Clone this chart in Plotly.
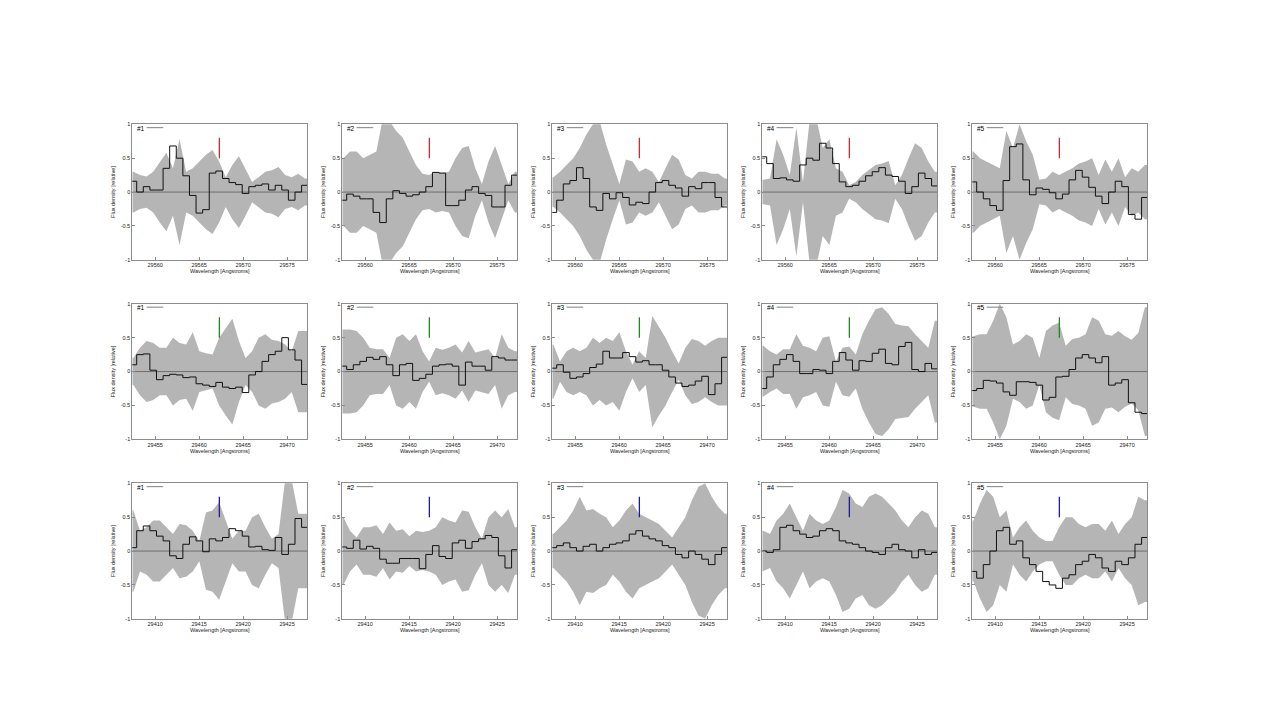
import plotly.graph_objects as go
from plotly.subplots import make_subplots

# ---------------- data ----------------
row_ranges = [(29557.4, 29577.3), (29452.4, 29472.3), (29407.4, 29427.3)]
row_first_center = [29557.525, 29452.525, 29407.525]
bin_width = 0.75
row_marker_x = [29567.3, 29462.3, 29417.3]
row_ticks = [[29560, 29565, 29570, 29575],
             [29455, 29460, 29465, 29470],
             [29410, 29415, 29420, 29425]]
marker_colors = ["#d42a2a", "#1f8a1f", "#1c1ca0"]
panel_labels = ["#1", "#2", "#3", "#4", "#5"]
y_tick_vals = [-1, -0.5, 0, 0.5, 1]
y_tick_text = ["-1", "-0.5", "0", "0.5", "1"]
marker_low, marker_high = 0.5, 0.8

flux_row1 = [
    [0.16, 0.0, 0.08, 0.03, 0.03, 0.35, 0.68, 0.5, 0.24, -0.05, -0.31, -0.26, 0.28, 0.31, 0.2, 0.14, 0.11, -0.02, 0.08, 0.1, 0.12, 0.03, 0.1, 0.03, -0.12, 0.0, 0.1],
    [-0.12, -0.03, -0.06, -0.1, -0.1, -0.3, -0.45, -0.1, 0.02, -0.02, -0.06, -0.04, 0.0, 0.08, 0.29, 0.28, -0.2, -0.2, -0.12, 0.03, 0.08, -0.02, -0.05, -0.22, -0.22, 0.1, 0.25],
    [-0.3, -0.12, 0.12, 0.17, 0.36, 0.2, -0.22, -0.27, -0.02, -0.1, -0.01, -0.08, -0.19, -0.15, -0.17, 0.0, 0.14, 0.17, 0.1, 0.06, -0.06, 0.08, 0.05, 0.14, 0.14, -0.08, -0.22],
    [0.52, 0.42, 0.2, 0.21, 0.18, 0.16, 0.4, 0.5, 0.47, 0.72, 0.65, 0.42, 0.15, 0.08, 0.1, 0.16, 0.24, 0.3, 0.36, 0.25, 0.23, 0.16, -0.02, 0.08, 0.28, 0.2, 0.09],
    [0.15, 0.0, -0.1, -0.2, -0.27, 0.17, 0.67, 0.71, 0.18, -0.04, 0.06, 0.04, -0.01, -0.1, -0.03, 0.18, 0.32, 0.22, 0.07, -0.06, -0.17, 0.0, 0.16, 0.08, -0.33, -0.4, -0.08],
]
err_row1 = [
    [0.3, 0.25, 0.23, 0.3, 0.45, 0.58, 0.35, 0.78, 0.3, 0.35, 0.45, 0.55, 0.62, 0.45, 0.22, 0.4, 0.53, 0.35, 0.15, 0.22, 0.3, 0.32, 0.37, 0.25, 0.22, 0.27, 0.2],
    [0.5, 0.6, 0.6, 0.5, 0.55, 0.6, 1.1, 1.05, 0.9, 0.8, 0.6, 0.4, 0.27, 0.25, 0.3, 0.28, 0.3, 0.5, 0.65, 0.68, 0.35, 0.12, 0.45, 0.68, 0.4, 0.12, 0.3],
    [0.22, 0.3, 0.4, 0.5, 0.65, 0.85, 1.0, 1.05, 0.7, 0.4, 0.12, 0.48, 0.45, 0.3, 0.35, 0.3, 0.15, 0.35, 0.55, 0.48, 0.25, 0.2, 0.3, 0.3, 0.27, 0.27, 0.2],
    [0.18, 0.2, 0.78, 0.55, 0.25, 0.95, 0.15, 1.05, 1.1, 0.65, 0.78, 0.35, 0.3, 0.1, 0.15, 0.25, 0.32, 0.4, 0.42, 0.46, 0.1, 0.25, 0.5, 0.72, 0.65, 0.45, 0.3],
    [0.6, 0.5, 0.45, 0.4, 0.35, 0.9, 0.65, 1.0, 0.75, 0.55, 0.18, 0.2, 0.3, 0.25, 0.3, 0.35, 0.42, 0.45, 0.5, 0.25, 0.48, 0.3, 0.5, 0.22, 0.35, 0.3, 0.4],
]
flux_row2 = [
    [0.1, 0.25, 0.26, 0.02, -0.12, -0.06, -0.04, -0.05, -0.09, -0.08, -0.18, -0.2, -0.22, -0.16, -0.23, -0.25, -0.23, -0.31, -0.05, 0.0, 0.15, 0.25, 0.3, 0.5, 0.32, 0.17, -0.19],
    [0.08, 0.03, 0.1, 0.15, 0.21, 0.18, 0.22, 0.1, -0.06, 0.1, 0.12, -0.13, -0.1, -0.04, 0.08, 0.1, 0.11, 0.08, -0.2, 0.14, 0.08, 0.08, 0.02, 0.22, 0.2, 0.17, 0.17],
    [0.05, 0.1, -0.01, -0.1, -0.08, -0.03, 0.06, 0.11, 0.3, 0.2, 0.2, 0.28, 0.22, 0.14, 0.16, 0.1, 0.1, 0.02, -0.08, -0.17, -0.22, -0.2, -0.14, -0.07, -0.34, -0.18, 0.21],
    [-0.25, -0.08, 0.1, 0.18, 0.25, 0.15, -0.03, -0.03, 0.03, 0.02, -0.03, 0.15, 0.28, 0.17, 0.02, 0.16, 0.15, 0.27, 0.33, 0.12, 0.1, 0.37, 0.43, 0.03, 0.0, 0.12, 0.04],
    [-0.28, -0.25, -0.13, -0.14, -0.17, -0.3, -0.35, -0.15, -0.15, -0.16, -0.2, -0.42, -0.38, -0.08, -0.07, 0.03, 0.2, 0.25, 0.2, 0.13, 0.22, -0.2, -0.17, -0.12, -0.46, -0.6, -0.62],
]
err_row2 = [
    [0.2, 0.35, 0.45, 0.42, 0.35, 0.35, 0.5, 0.42, 0.4, 0.58, 0.3, 0.27, 0.25, 0.5, 0.65, 0.78, 0.45, 0.2, 0.3, 0.5, 0.55, 0.47, 0.45, 0.4, 0.3, 0.6, 0.6],
    [0.62, 0.62, 0.6, 0.5, 0.35, 0.33, 0.33, 0.2, 0.5, 0.55, 0.45, 0.55, 0.3, 0.15, 0.35, 0.32, 0.35, 0.4, 0.28, 0.45, 0.28, 0.3, 0.33, 0.2, 0.55, 0.35, 0.3],
    [0.4, 0.15, 0.3, 0.35, 0.3, 0.35, 0.5, 0.42, 0.5, 0.45, 0.58, 0.3, 0.1, 0.3, 0.2, 0.82, 0.65, 0.5, 0.3, 0.12, 0.35, 0.48, 0.45, 0.38, 0.45, 0.5, 0.5],
    [0.38, 0.3, 0.25, 0.33, 0.33, 0.55, 0.38, 0.35, 0.3, 0.5, 0.52, 0.15, 0.35, 0.37, 0.25, 0.55, 0.75, 0.92, 0.95, 0.85, 0.7, 0.68, 0.67, 0.55, 0.45, 0.35, 0.75],
    [0.52, 0.55, 0.55, 0.75, 1.0, 0.8, 0.4, 0.45, 0.55, 0.5, 0.2, 0.6, 0.68, 0.72, 0.38, 0.48, 0.5, 0.55, 0.8, 0.75, 0.55, 0.53, 0.6, 0.52, 0.47, 0.57, 0.95],
]
flux_row3 = [
    [0.05, 0.3, 0.37, 0.3, 0.22, 0.15, -0.07, -0.11, 0.1, 0.21, 0.15, -0.01, 0.18, 0.15, 0.2, 0.33, 0.3, 0.22, 0.06, 0.07, 0.02, 0.01, 0.2, -0.05, 0.1, 0.48, 0.35],
    [0.06, 0.04, 0.16, 0.03, 0.07, 0.04, -0.12, -0.18, -0.18, -0.11, -0.11, -0.11, -0.26, -0.05, 0.08, -0.08, -0.11, 0.12, 0.16, 0.04, 0.14, 0.18, 0.23, 0.2, -0.07, -0.25, 0.02],
    [0.05, 0.08, 0.12, 0.05, 0.0, 0.07, 0.1, 0.0, 0.05, 0.1, 0.12, 0.15, 0.25, 0.3, 0.22, 0.18, 0.15, 0.08, 0.05, -0.05, -0.1, 0.0, -0.05, -0.12, -0.2, -0.05, 0.05],
    [0.0, -0.02, 0.02, 0.35, 0.38, 0.3, 0.25, 0.2, 0.22, 0.3, 0.33, 0.3, 0.15, 0.12, 0.1, 0.05, 0.0, -0.02, -0.05, 0.05, 0.1, 0.02, 0.0, -0.1, 0.02, -0.05, -0.02],
    [-0.3, -0.4, -0.2, 0.0, 0.3, 0.35, 0.1, 0.15, -0.1, -0.2, -0.3, -0.45, -0.5, -0.55, -0.4, -0.35, -0.2, -0.15, -0.05, -0.1, -0.25, -0.3, -0.15, -0.2, -0.1, 0.1, 0.2],
]
err_row3 = [
    [0.6, 0.3, 0.35, 0.45, 0.45, 0.35, 0.25, 0.4, 0.38, 0.3, 0.15, 0.57, 0.6, 0.72, 0.45, 0.18, 0.3, 0.3, 0.5, 0.55, 0.35, 0.18, 0.25, 1.05, 1.05, 0.55, 0.55],
    [0.5, 0.3, 0.2, 0.35, 0.35, 0.38, 0.25, 0.42, 0.3, 0.32, 0.22, 0.3, 0.28, 0.3, 0.35, 0.5, 0.45, 0.42, 0.6, 0.58, 0.35, 0.18, 0.5, 0.6, 0.5, 0.62, 0.35],
    [0.25, 0.35, 0.45, 0.6, 0.8, 0.6, 0.62, 0.55, 0.5, 0.35, 0.45, 0.6, 0.7, 0.55, 0.5, 0.45, 0.4, 0.3, 0.2, 0.35, 0.5, 0.75, 0.95, 1.0, 0.8, 0.65, 0.55],
    [0.3, 0.25, 0.45, 0.55, 0.7, 0.5, 0.3, 0.55, 0.45, 0.4, 0.45, 0.65, 0.9, 0.85, 0.7, 0.65, 0.8, 0.85, 0.8, 0.7, 0.6, 0.45, 0.35, 0.5, 0.6, 0.55, 0.35],
    [0.45, 0.7, 0.9, 0.8, 0.5, 0.6, 0.2, 0.35, 0.45, 0.3, 0.2, 0.15, 0.15, 0.35, 0.5, 0.5, 0.4, 0.35, 0.4, 0.4, 0.3, 0.45, 0.25, 0.4, 0.5, 0.8, 0.75],
]

flux_rows = [flux_row1, flux_row2, flux_row3]
err_rows = [err_row1, err_row2, err_row3]

# ---------------- layout geometry ----------------
W, H = 1270, 721
col_left_px = [132.3, 342.3, 552.3, 762.3, 972.3]
panel_w_px = 175.0
row_top_px = [122.3, 303.3, 484.3]
panel_h_px = 136.7

FONT = "Liberation Sans, Arial, Helvetica, sans-serif"
BAND = "#b5b5b5"
FRAME = "#8c8c8c"
TXT = "#1a1a1a"

fig = make_subplots(rows=3, cols=5, horizontal_spacing=0.02, vertical_spacing=0.05)

for r in range(3):
    xmin, xmax = row_ranges[r]
    for c in range(5):
        idx = r * 5 + c + 1
        fl = flux_rows[r][c]
        er = err_rows[r][c]
        n = len(fl)
        centers = [row_first_center[r] + k * bin_width for k in range(n)]
        # band (+/- error), held constant out to the axis edges
        bx = [xmin] + centers + [xmax]
        be = [er[0]] + er + [er[-1]]
        band_x = bx + bx[::-1]
        band_y = be + [-v for v in be[::-1]]
        fig.add_trace(go.Scatter(x=band_x, y=band_y, fill="toself", fillcolor=BAND,
                                 line=dict(width=0), mode="lines", hoverinfo="skip",
                                 showlegend=False), row=r + 1, col=c + 1)
        # zero line
        fig.add_trace(go.Scatter(x=[xmin, xmax], y=[0, 0], mode="lines",
                                 line=dict(color="#505050", width=0.7),
                                 showlegend=False, hoverinfo="skip"),
                      row=r + 1, col=c + 1)
        # step spectrum
        edges = [x - bin_width / 2 for x in centers] + [centers[-1] + bin_width / 2]
        fig.add_trace(go.Scatter(x=edges, y=fl + [fl[-1]], mode="lines",
                                 line=dict(color="#111111", width=1, shape="hv"),
                                 showlegend=False), row=r + 1, col=c + 1)
        # line marker
        fig.add_trace(go.Scatter(x=[row_marker_x[r], row_marker_x[r]],
                                 y=[marker_low, marker_high], mode="lines",
                                 line=dict(color=marker_colors[r], width=1.3),
                                 showlegend=False), row=r + 1, col=c + 1)

        xa = "xaxis" if idx == 1 else f"xaxis{idx}"
        ya = "yaxis" if idx == 1 else f"yaxis{idx}"
        x0 = col_left_px[c] / W
        x1 = (col_left_px[c] + panel_w_px) / W
        y1 = 1 - row_top_px[r] / H
        y0 = 1 - (row_top_px[r] + panel_h_px) / H
        fig.layout[xa].update(
            domain=[x0, x1], range=[xmin, xmax], tickvals=row_ticks[r],
            ticktext=[str(t) for t in row_ticks[r]],
            showline=True, mirror=True, linecolor=FRAME, linewidth=1,
            ticks="inside", ticklen=3, tickcolor=FRAME, showgrid=False, zeroline=False,
            tickfont=dict(size=5.5, family=FONT, color=TXT),
            title=dict(text="Wavelength [Angstroms]", font=dict(size=5.5, family=FONT, color=TXT),
                       standoff=1),
        )
        fig.layout[ya].update(
            domain=[y0, y1], range=[-1, 1], tickvals=y_tick_vals, ticktext=y_tick_text,
            showline=True, mirror=True, linecolor=FRAME, linewidth=1,
            ticks="inside", ticklen=3, tickcolor=FRAME, showgrid=False, zeroline=False,
            tickfont=dict(size=5.5, family=FONT, color=TXT),
            title=dict(text="Flux density [relative]", font=dict(size=5.5, family=FONT, color=TXT),
                       standoff=4),
        )
        xref_dom = ("x" if idx == 1 else f"x{idx}") + " domain"
        yref_dom = ("y" if idx == 1 else f"y{idx}") + " domain"
        fig.add_annotation(text=panel_labels[c], xref=xref_dom, yref=yref_dom,
                           x=0.013, y=0.972, xanchor="left", yanchor="middle",
                           showarrow=False, font=dict(size=6.5, family=FONT, color="#000"))
        fig.add_shape(type="line", xref=xref_dom, yref=yref_dom,
                      x0=0.082, x1=0.177, y0=0.975, y1=0.975,
                      line=dict(color="#808080", width=1))

fig.update_layout(width=W, height=H, margin=dict(l=0, r=0, t=0, b=0),
                  paper_bgcolor="white", plot_bgcolor="white", showlegend=False)

fig.write_html("out.html")
